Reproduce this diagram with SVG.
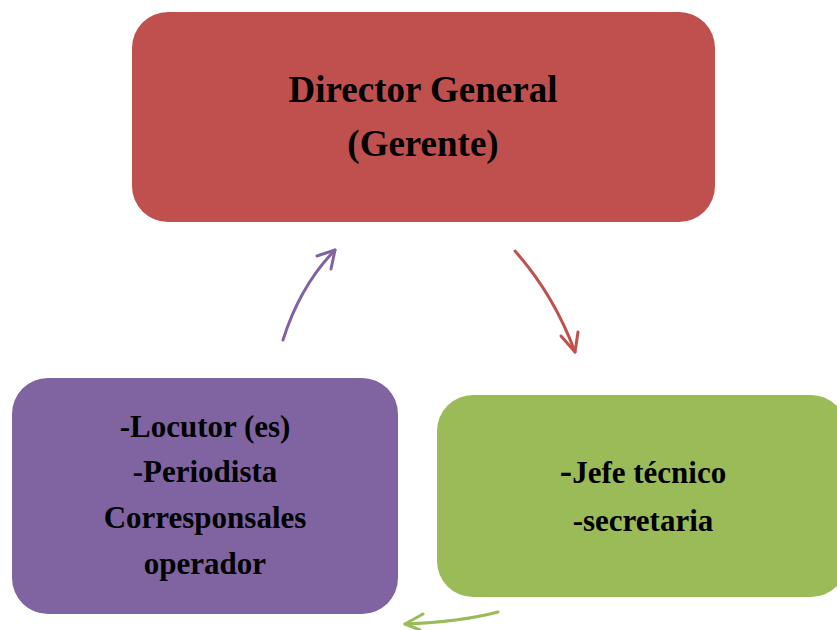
<svg xmlns="http://www.w3.org/2000/svg" width="837" height="630" viewBox="0 0 837 630">
<style>
.t{font-family:"Liberation Serif","Times New Roman",serif;font-weight:bold;fill:#000;text-anchor:middle}
.a{fill:none;stroke-width:3;stroke-linecap:round;stroke-linejoin:round}
</style>
<rect width="837" height="630" fill="#fff"/>
<g id="director">
<rect x="132" y="12" width="583" height="210" rx="36" fill="#C0504D"/>
<text class="t" x="423" y="102" font-size="37">Director General</text>
<text class="t" x="423" y="156" font-size="37">(Gerente)</text>
</g>
<g id="tecnico">
<rect x="437" y="395" width="410" height="202" rx="36" fill="#9BBB59"/>
<text class="t" x="643" y="483" font-size="31"><tspan font-size="37">-</tspan>Jefe técnico</text>
<text class="t" x="643" y="531" font-size="31">-secretaria</text>
</g>
<g id="locutores">
<rect x="12" y="378" width="386" height="236" rx="36" fill="#8064A2"/>
<text class="t" x="205" y="437" font-size="31">-Locutor (es)</text>
<text class="t" x="205" y="482" font-size="31">-Periodista</text>
<text class="t" x="205" y="528" font-size="31">Corresponsales</text>
<text class="t" x="205" y="574" font-size="31">operador</text>
</g>
<g id="connectors">
<path class="a" stroke="#C0504D" d="M515 251 Q554 295 575 352"/>
<path class="a" stroke="#C0504D" d="M561 336 L575 352 L578 332"/>
<path class="a" stroke="#9BBB59" d="M498 612 Q460 622 405 624"/>
<path class="a" stroke="#9BBB59" d="M423 614 L405 624 L420 630"/>
<path class="a" stroke="#8064A2" d="M283 340 Q300 286 335 250"/>
<path class="a" stroke="#8064A2" d="M317 256 L335 250 L331 269"/>
</g>
</svg>
